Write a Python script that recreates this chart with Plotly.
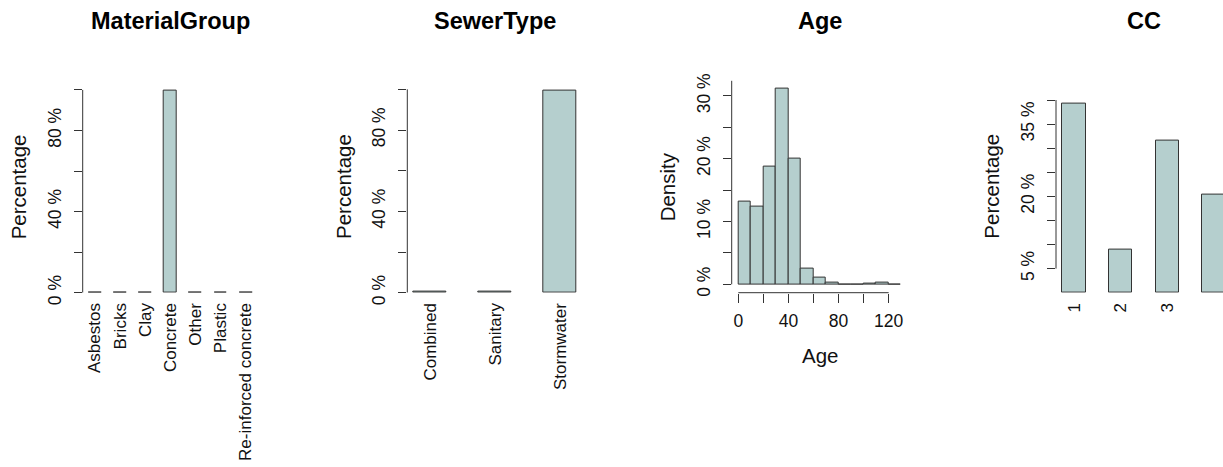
import plotly.graph_objects as go

W, H = 1223, 467

# ---- data ----
material_groups = ["Asbestos", "Bricks", "Clay", "Concrete", "Other", "Plastic", "Re-inforced concrete"]
material_share = [0.1, 0.1, 0.1, 99.5, 0.1, 0.05, 0.05]

sewer_types = ["Combined", "Sanitary", "Stormwater"]
sewer_share = [0.3, 0.4, 99.3]

age_bin_edges = [0, 10, 20, 30, 40, 50, 60, 70, 80, 90, 100, 110, 120, 130]
age_density = [13.2, 12.4, 18.7, 31.2, 20.0, 2.55, 1.15, 0.25, 0.03, 0.03, 0.15, 0.27, 0.02]

cc_classes = ["1", "2", "3", "4"]
cc_share = [39.2, 9.0, 31.5, 20.3]

pct_ticks_100 = [0, 20, 40, 60, 80, 100]
pct_text_100 = ["0 %", "", "40 %", "", "80 %", ""]
age_pct_ticks = [0, 5, 10, 15, 20, 25, 30]
age_pct_text = ["0 %", "", "10 %", "", "20 %", "", "30 %"]
age_x_ticks = [0, 20, 40, 60, 80, 100, 120]
age_x_text = ["0", "", "40", "", "80", "", "120"]
cc_ticks = [5, 10, 15, 20, 25, 30, 35, 40]
cc_text = ["5 %", "", "", "20 %", "", "", "35 %", ""]

# ---- style ----
FILL = "#B5CFCE"
EDGE = "#333333"
INK = "#111111"
FONT = "Liberation Sans, Arial, sans-serif"
TICK_SIZE = 17.5
CAT_SIZE = 17
LAB_SIZE = 20.5
MAIN_SIZE = 23.5


def fx(p):
    return p / W


def fy(p):
    return 1 - p / H


# plot regions in pixels (left edge of each panel's region)
REG_TOP, REG_BOT = 80.6, 292.7
REG_W = 176
lefts = [82.7, 407.3, 731.7, 1056.0]
ydom = [fy(REG_BOT), fy(REG_TOP)]

fig = go.Figure()

bar_style = dict(marker=dict(color=FILL, line=dict(color=EDGE, width=1)), showlegend=False,
                 hoverinfo="x+y")

fig.add_trace(go.Bar(x=list(range(len(material_groups))), y=material_share, width=0.514,
                     xaxis="x", yaxis="y", **bar_style))
fig.add_trace(go.Bar(x=list(range(len(sewer_types))), y=sewer_share, width=0.5,
                     xaxis="x2", yaxis="y2", **bar_style))
age_mids = [(a + b) / 2 for a, b in zip(age_bin_edges[:-1], age_bin_edges[1:])]
age_widths = [b - a for a, b in zip(age_bin_edges[:-1], age_bin_edges[1:])]
fig.add_trace(go.Bar(x=age_mids, y=age_density, width=age_widths,
                     xaxis="x3", yaxis="y3", **bar_style))
fig.add_trace(go.Bar(x=list(range(len(cc_classes))), y=cc_share, width=0.502,
                     xaxis="x4", yaxis="y4", **bar_style))

tickfont = dict(family=FONT, size=TICK_SIZE, color=INK)
catfont = dict(family=FONT, size=CAT_SIZE, color=INK)

cat_x = dict(showgrid=False, zeroline=False, showline=False, ticks="", tickangle=-90,
             tickmode="array", tickfont=catfont, fixedrange=True, ticklabelstandoff=6,
             automargin=False)
y_common = dict(showgrid=False, zeroline=False, showline=False, ticks="outside", ticklen=8,
                tickwidth=1, tickcolor=EDGE, tickangle=-90, tickmode="array",
                tickfont=tickfont, domain=ydom, fixedrange=True, ticklabelstandoff=6,
                automargin=False)

fig.update_layout(
    xaxis=dict(cat_x, domain=[fx(lefts[0]), fx(lefts[0] + REG_W)], range=[-0.486, 6.51],
               tickvals=list(range(len(material_groups))), ticktext=material_groups,
               anchor="y"),
    yaxis=dict(y_common, range=[0, 104.6], tickvals=pct_ticks_100, ticktext=pct_text_100,
               anchor="x"),
    xaxis2=dict(cat_x, domain=[fx(lefts[1]), fx(lefts[1] + REG_W)], range=[-0.349, 2.358],
                tickvals=list(range(len(sewer_types))), ticktext=sewer_types, anchor="y2"),
    yaxis2=dict(y_common, range=[0, 104.3], tickvals=pct_ticks_100, ticktext=pct_text_100,
                anchor="x2"),
    xaxis3=dict(showgrid=False, zeroline=False, showline=False, ticks="outside", ticklen=9,
                tickwidth=1, tickcolor=EDGE, tickmode="array", tickvals=age_x_ticks,
                ticktext=age_x_text, tickfont=tickfont, range=[-5.3, 135.2],
                domain=[fx(lefts[2]), fx(lefts[2] + REG_W)], anchor="y3", fixedrange=True,
                ticklabelstandoff=3, automargin=False),
    yaxis3=dict(y_common, range=[-1.333, 32.45], tickvals=age_pct_ticks,
                ticktext=age_pct_text, anchor="x3"),
    xaxis4=dict(cat_x, domain=[fx(lefts[3]), 1.0], range=[-0.386, 3.197],
                tickvals=list(range(len(cc_classes))), ticktext=cc_classes, anchor="y4"),
    yaxis4=dict(y_common, range=[0, 44.03], tickvals=cc_ticks, ticktext=cc_text,
                anchor="x4"),
)

# axis spines spanning the tick range (as in base-graphics axes)
line_style = dict(color=EDGE, width=1)
shapes = []
for ax, lo, hi in [("", 0, 100), ("2", 0, 100), ("3", 0, 32.45), ("4", 5, 40)]:
    shapes.append(dict(type="line", xref=f"x{ax} domain", yref=f"y{ax}", x0=0, x1=0,
                       y0=lo, y1=hi, line=line_style, layer="above"))
shapes.append(dict(type="line", xref="x3", yref="y3 domain", x0=age_x_ticks[0],
                   x1=age_x_ticks[-1], y0=0, y1=0, line=line_style, layer="above"))

annotations = []
titles = ["MaterialGroup", "SewerType", "Age", "CC"]
for left, t in zip(lefts, titles):
    annotations.append(dict(text=f"<b>{t}</b>", x=fx(left + REG_W / 2), y=fy(21),
                            xref="paper", yref="paper", showarrow=False,
                            xanchor="center", yanchor="middle",
                            font=dict(family=FONT, size=MAIN_SIZE, color="#000")))
ylabels = ["Percentage", "Percentage", "Density", "Percentage"]
for left, t in zip(lefts, ylabels):
    annotations.append(dict(text=t, x=fx(left - 64), y=fy((REG_TOP + REG_BOT) / 2),
                            xref="paper", yref="paper", showarrow=False, textangle=-90,
                            xanchor="center", yanchor="middle",
                            font=dict(family=FONT, size=LAB_SIZE, color=INK)))
annotations.append(dict(text="Age", x=fx(lefts[2] + REG_W / 2), y=fy(355), xref="paper",
                        yref="paper", showarrow=False, xanchor="center", yanchor="middle",
                        font=dict(family=FONT, size=LAB_SIZE, color=INK)))

fig.update_layout(
    width=W, height=H, autosize=False,
    margin=dict(l=0, r=0, t=0, b=0, pad=0, autoexpand=False),
    paper_bgcolor="white", plot_bgcolor="white",
    bargap=0, barmode="overlay",
    shapes=shapes, annotations=annotations,
    font=dict(family=FONT, color=INK),
    showlegend=False,
)

fig.write_html("out.html", config={"displayModeBar": False})
